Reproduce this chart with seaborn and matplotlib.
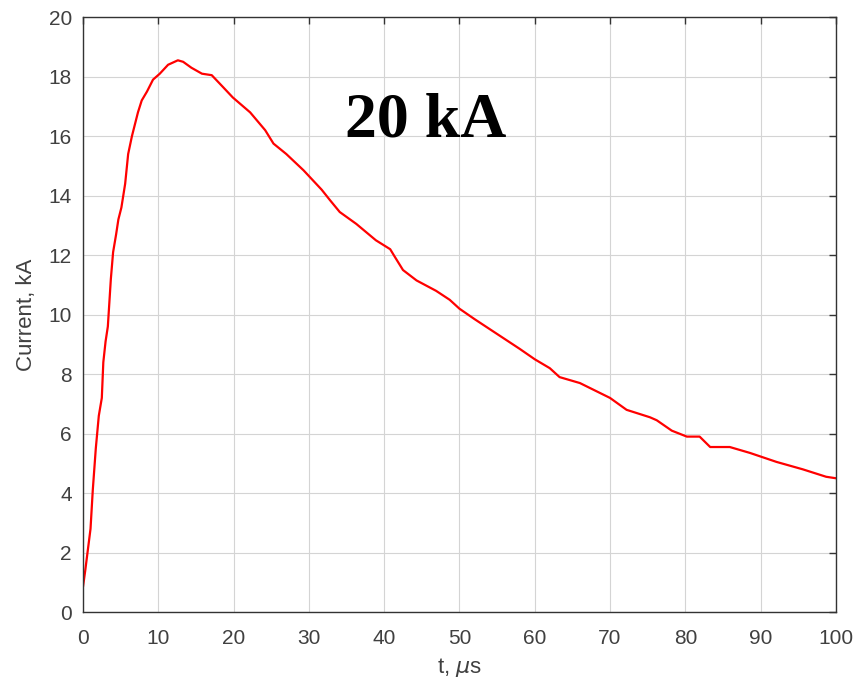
import numpy as np
import pandas as pd
import matplotlib
matplotlib.use('Agg')
import matplotlib.pyplot as plt
import seaborn as sns

# current waveform (t in us, current in kA)
t_us = [0.0, 0.3, 0.7, 1.0, 1.3, 1.7, 2.1, 2.5, 2.7, 3.0, 3.3, 3.5, 3.7, 4.0,
        4.4, 4.7, 5.1, 5.6, 6.0, 6.5, 6.9, 7.3, 7.8, 8.5, 9.3, 10.2, 11.3,
        12.6, 13.3, 14.4, 15.8, 17.1, 18.6, 19.9, 22.2, 24.2, 25.3, 27.0,
        29.3, 31.7, 32.8, 34.1, 36.3, 38.9, 40.8, 41.4, 42.5, 44.3, 46.9,
        48.7, 50.0, 52.0, 55.0, 58.0, 60.0, 62.0, 63.3, 66.0, 70.0, 72.2,
        75.3, 76.2, 78.2, 80.2, 81.9, 83.3, 85.9, 88.6, 92.1, 95.6, 98.7,
        100.0]
current_ka = [0.85, 1.4, 2.2, 2.8, 4.1, 5.5, 6.6, 7.2, 8.4, 9.1, 9.6, 10.4,
              11.2, 12.1, 12.7, 13.2, 13.6, 14.4, 15.4, 16.0, 16.4, 16.8,
              17.2, 17.5, 17.9, 18.1, 18.4, 18.55, 18.5, 18.3, 18.1, 18.05,
              17.65, 17.3, 16.8, 16.2, 15.75, 15.4, 14.85, 14.2, 13.85,
              13.45, 13.05, 12.5, 12.2, 11.95, 11.5, 11.15, 10.8, 10.5,
              10.2, 9.85, 9.35, 8.85, 8.5, 8.2, 7.9, 7.7, 7.2, 6.8, 6.55,
              6.45, 6.1, 5.9, 5.9, 5.55, 5.55, 5.35, 5.05, 4.8, 4.55, 4.5]

x_ticks = list(range(0, 101, 10))
y_ticks = list(range(0, 21, 2))

df = pd.DataFrame({'t': t_us, 'I': current_ka})

sns.set_style('white')
plt.rcParams['font.family'] = ['Liberation Sans', 'DejaVu Sans']
plt.rcParams['mathtext.fontset'] = 'dejavusans'

axis_col = '#333333'
text_col = '#404040'

fig = plt.figure(figsize=(8.6, 6.87), dpi=100)
ax = fig.add_axes([0.0965, 0.109, 0.8755, 0.866])

sns.lineplot(data=df, x='t', y='I', ax=ax, color='#ff0000', linewidth=1.6,
             sort=False, estimator=None)

ax.set_xlim(0, 100)
ax.set_ylim(0, 20)
ax.set_xticks(x_ticks)
ax.set_yticks(y_ticks)
ax.grid(True, color='#d4d4d4', linewidth=0.8)
ax.set_axisbelow(True)

for side in ['left', 'right', 'top', 'bottom']:
    ax.spines[side].set_visible(True)
    ax.spines[side].set_color(axis_col)
    ax.spines[side].set_linewidth(1.0)

ax.tick_params(direction='in', length=5, width=1.0, color=axis_col,
               labelcolor=text_col, labelsize=15, top=True, right=True,
               labeltop=False, labelright=False)
ax.tick_params(axis='x', pad=12)
ax.tick_params(axis='y', pad=8)

ax.set_xlabel('t, $\\mu$s', fontsize=16, color=text_col, labelpad=6)
ax.set_ylabel('Current, kA', fontsize=16, color=text_col, labelpad=8)

ax.text(45.5, 16.5, '20 kA', family=['Liberation Serif', 'DejaVu Serif'],
        fontweight='bold', fontsize=46, color='black',
        ha='center', va='center')

fig.savefig('out.png', dpi=100, facecolor='white')
